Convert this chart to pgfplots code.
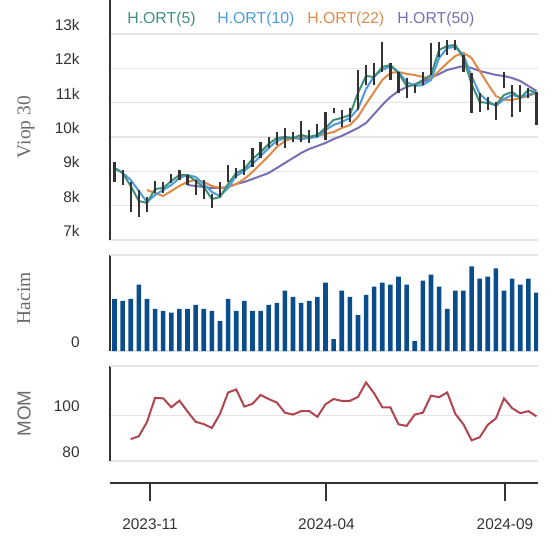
\documentclass[border=0pt]{standalone}
\usepackage{pgfplots}
\pgfplotsset{compat=1.18}
\usepackage{pgfplotstable}
\usepackage{fontspec}
\setmainfont{Liberation Sans}
\newfontfamily\seriffam{Liberation Serif}
\newfontfamily\sansfam{Liberation Sans}

\definecolor{maA}{HTML}{3F8F7A}
\definecolor{maB}{HTML}{4C9BE0}
\definecolor{maC}{HTML}{DF8A48}
\definecolor{maD}{HTML}{7570B3}
\definecolor{barc}{HTML}{333333}
\definecolor{volc}{HTML}{0A4D8C}
\definecolor{momc}{HTML}{B0454F}
\definecolor{gridc}{HTML}{E5E5E5}
\definecolor{spine}{HTML}{333333}
\definecolor{tickc}{HTML}{333333}
\definecolor{labc}{HTML}{6A6A6A}

\pgfplotstableread{
i lo hi
0 8690 9272
1 8602 9039
2 7816 8690
3 7670 8457
4 7816 8253
5 8369 8719
6 8369 8690
7 8660 8923
8 8748 9039
9 8602 8893
10 8311 8748
11 8200 8750
12 7920 8350
13 8253 8690
14 8690 9185
15 8806 9097
16 8893 9330
17 9126 9680
18 9389 9855
19 9680 10000
20 9767 10146
21 9680 10263
22 9855 10146
23 9855 10466
24 9826 10204
25 10000 10379
26 9913 10729
27 10700 10845
28 10292 10787
29 10437 10845
30 10787 11952
31 11515 12098
32 11515 12156
33 11894 12768
34 11661 12156
35 11282 11894
36 11136 11719
37 11282 11515
38 11515 11894
39 11806 12739
40 12331 12768
41 12389 12826
42 12535 12826
43 11894 12389
44 10700 11865
45 10729 11282
46 10787 11166
47 10496 11020
48 11428 11894
49 10583 11515
50 10729 11515
51 11136 11428
52 10350 11311
}\pricetable

\pgfplotstableread{
i v
0 54.4
1 52.3
2 54.4
3 69.1
4 54.4
5 43.9
6 41.8
7 40.0
8 43.9
9 43.9
10 48.1
11 43.9
12 41.8
13 31.2
14 54.4
15 41.8
16 52.3
17 41.8
18 41.8
19 48.1
20 50.2
21 62.8
22 56.5
23 50.2
24 52.3
25 56.5
26 71.2
27 12.3
28 62.8
29 56.5
30 37.5
31 58.6
32 67.0
33 71.2
34 69.1
35 77.5
36 69.1
37 10.2
38 73.3
39 79.6
40 67.0
41 43.9
42 62.8
43 62.8
44 88.1
45 75.4
46 77.5
47 86.0
48 62.8
49 75.4
50 69.1
51 75.4
52 60.7
}\voltable

\pgfplotstableread{
i m
2 89.6
3 90.9
4 97.1
5 107.7
6 107.5
7 103.6
8 106.5
9 101.7
10 97.2
11 96.2
12 94.5
13 100.7
14 110.1
15 111.4
16 103.9
17 105.1
18 109.0
19 107.2
20 105.7
21 101.2
22 100.4
23 101.9
24 101.9
25 99.4
26 104.9
27 107.2
28 106.4
29 106.4
30 108.1
31 114.5
32 109.7
33 103.6
34 103.5
35 96.1
36 95.4
37 100.4
38 101.2
39 108.7
40 108.0
41 110.1
42 100.7
43 96.1
44 89.1
45 90.4
46 95.9
47 98.7
48 107.5
49 103.2
50 101.0
51 101.9
52 99.6
}\momtable

\pgfplotsset{
  panel/.style={
    scale only axis, width=214pt,
    xmin=-0.555, xmax=52.19,
    axis x line=none, axis y line*=left,
    y axis line style={draw=spine, line width=1pt, -},
    ymajorgrids, grid style={gridc, line width=0.75pt},
    major tick length=0pt, xtick=\empty,
    yticklabel style={font=\fontsize{7.7}{9}\selectfont, text=tickc, anchor=east, inner sep=0pt, xshift=-15pt, yshift=4.5pt},
    every axis y label/.style={rotate=90, anchor=north, inner sep=0pt, text=labc},
  }
}

\begin{document}
\begin{tikzpicture}
\path[use as bounding box] (0,0) rectangle (277.5pt,269pt);

% price panel
\begin{axis}[panel, at={(55pt,149pt)}, anchor=south west, height=120pt,
  ymin=7000, ymax=13990,
  ytick={7000,8000,9000,10000,11000,12000,13000},
  yticklabels={7k,8k,9k,10k,11k,12k,13k},
  ylabel={\seriffam\fontsize{9.7}{11}\selectfont Viop 30},
  ylabel style={at={(axis description cs:-0.2173,0.47)}},
]
\addplot[maD, line width=1pt] coordinates {
(9,8602)(10,8573)(11,8544)(12,8515)(13,8515)(14,8544)(15,8631)(16,8690)(17,8777)(18,8864)(19,8952)(20,9097)(21,9243)(22,9389)(23,9534)(24,9651)(25,9738)(26,9826)(27,9942)(28,10030)(29,10146)(30,10263)(31,10408)(32,10670)(33,10933)(34,11166)(35,11340)(36,11457)(37,11544)(38,11603)(39,11719)(40,11836)(41,11952)(42,12010)(43,12069)(44,12010)(45,11923)(46,11865)(47,11806)(48,11777)(49,11719)(50,11632)(51,11486)(52,11340)};
\addplot[maC, line width=1pt] coordinates {
(4,8457)(5,8369)(6,8282)(7,8427)(8,8573)(9,8690)(10,8748)(11,8690)(12,8573)(13,8515)(14,8544)(15,8631)(16,8777)(17,8981)(18,9214)(19,9447)(20,9709)(21,9884)(22,9971)(23,10000)(24,10000)(25,10030)(26,10088)(27,10146)(28,10263)(29,10350)(30,10583)(31,10962)(32,11311)(33,11661)(34,11865)(35,11894)(36,11836)(37,11806)(38,11748)(39,11690)(40,11923)(41,12156)(42,12360)(43,12447)(44,12302)(45,11923)(46,11544)(47,11195)(48,11078)(49,11078)(50,11136)(51,11195)(52,11282)};
\addplot[maB, line width=1pt] coordinates {
(0,9097)(1,8952)(2,8748)(3,8427)(4,8107)(5,8311)(6,8457)(7,8602)(8,8806)(9,8893)(10,8835)(11,8631)(12,8398)(13,8282)(14,8515)(15,8864)(16,9010)(17,9214)(18,9447)(19,9680)(20,9884)(21,9971)(22,9971)(23,9942)(24,9971)(25,10000)(26,10204)(27,10350)(28,10437)(29,10554)(30,10816)(31,11399)(32,11777)(33,11952)(34,12069)(35,11894)(36,11603)(37,11486)(38,11515)(39,11661)(40,12302)(41,12593)(42,12622)(43,12389)(44,11777)(45,11253)(46,11049)(47,10903)(48,11107)(49,11224)(50,11166)(51,11224)(52,11311)};
\addplot[maA, line width=1pt] coordinates {
(0,9097)(1,8952)(2,8573)(3,8136)(4,8078)(5,8486)(6,8515)(7,8719)(8,8893)(9,8893)(10,8719)(11,8544)(12,8194)(13,8253)(14,8631)(15,8952)(16,9068)(17,9360)(18,9563)(19,9796)(20,9971)(21,10000)(22,9971)(23,10059)(24,10000)(25,10059)(26,10263)(27,10496)(28,10554)(29,10641)(30,11282)(31,11777)(32,11748)(33,12039)(34,12098)(35,11865)(36,11486)(37,11515)(38,11661)(39,11806)(40,12535)(41,12651)(42,12680)(43,12302)(44,11544)(45,11020)(46,10991)(47,10933)(48,11224)(49,11311)(50,11136)(51,11370)(52,11282)};
\addplot[draw=none, mark=none, error bars/.cd, y dir=both, y explicit, error mark=none,
  error bar style={line width=1.1pt, color=barc}]
  table[x=i, y expr=(\thisrow{lo}+\thisrow{hi})/2, y error expr=(\thisrow{hi}-\thisrow{lo})/2] {\pricetable};
\node[anchor=west, inner sep=0pt, text=maA, font=\fontsize{7.9}{9}\selectfont] at (axis description cs:0.0397,0.919) {H.ORT(5)};
\node[anchor=west, inner sep=0pt, text=maB, font=\fontsize{7.9}{9}\selectfont] at (axis description cs:0.250,0.919) {H.ORT(10)};
\node[anchor=west, inner sep=0pt, text=maC, font=\fontsize{7.9}{9}\selectfont] at (axis description cs:0.460,0.919) {H.ORT(22)};
\node[anchor=west, inner sep=0pt, text=maD, font=\fontsize{7.9}{9}\selectfont] at (axis description cs:0.6706,0.919) {H.ORT(50)};
\end{axis}

% volume panel
\begin{axis}[panel, at={(55pt,93.5pt)}, anchor=south west, height=48pt,
  ymin=0, ymax=100,
  ytick={0}, yticklabels={0},
  extra y ticks={100}, extra y tick labels={}, extra y tick style={grid=major},
  ylabel={\seriffam\fontsize{9.7}{11}\selectfont Hacim},
  ylabel style={at={(axis description cs:-0.2173,0.55)}},
]
\addplot[ybar, bar width=2.3pt, bar shift=0pt, fill=volc, draw=none] table[x=i, y=v] {\voltable};
\end{axis}

% momentum panel
\begin{axis}[panel, at={(55pt,38.5pt)}, anchor=south west, height=47.5pt,
  ymin=80, ymax=121.7,
  ytick={80,100}, yticklabels={80,100},
  extra y ticks={121.7}, extra y tick labels={}, extra y tick style={grid=major},
  ylabel={\sansfam\fontsize{9.4}{11}\selectfont MOM},
  ylabel style={at={(axis description cs:-0.2173,0.5)}},
]
\addplot[momc, line width=1pt] table[x=i, y=m] {\momtable};
\end{axis}

% date axis
\begin{axis}[scale only axis, width=214pt, height=2pt, at={(55pt,27.5pt)}, anchor=south west,
  xmin=-0.555, xmax=52.19, ymin=0, ymax=1,
  axis x line*=bottom, axis y line=none,
  x axis line style={draw=spine, line width=1pt, -},
  xtick={4.375,26.12,48.12}, xticklabels={2023-11,2024-04,2024-09},
  tick align=outside, major tick length=9pt,
  xtick style={draw=spine, line width=1pt},
  xticklabel style={font=\fontsize{7.7}{9}\selectfont, text=tickc, anchor=center, inner sep=0pt, yshift=-11.5pt},
]
\end{axis}
\end{tikzpicture}
\end{document}
